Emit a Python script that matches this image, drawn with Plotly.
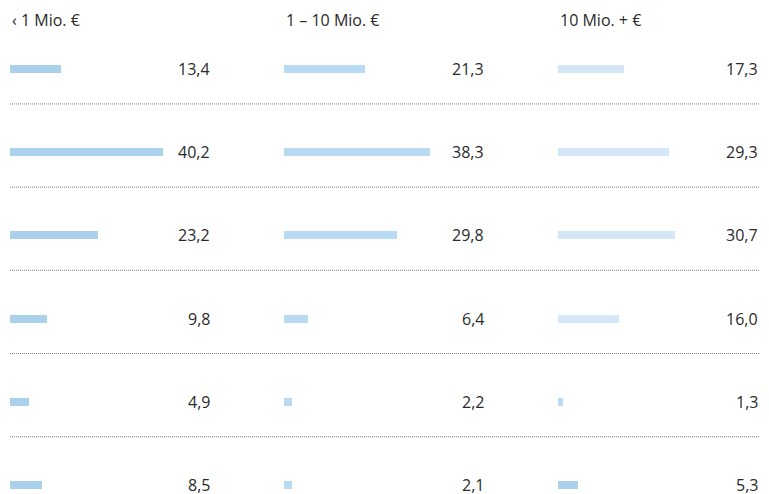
import plotly.graph_objects as go

# Column headers (company size classes)
groups = ["\u2039 1 Mio. \u20ac", "1 \u2013 10 Mio. \u20ac", "10 Mio. + \u20ac"]

# Row index (six answer categories per column)
rows = [0, 1, 2, 3, 4, 5]

# Share values (in %) per column
small = [13.4, 40.2, 23.2, 9.8, 4.9, 8.5]
medium = [21.3, 38.3, 29.8, 6.4, 2.2, 2.1]
large = [17.3, 29.3, 30.7, 16.0, 1.3, 5.3]

# Bar colours per column
colors_small = ["#a9d1eb"] * 6
colors_medium = ["#b9dbf1"] * 6
colors_large = ["#d5e7f6", "#d5e7f6", "#d5e7f6", "#d5e7f6", "#b9dbf1", "#a9d1eb"]

W, H = 769, 494
PX_PER_UNIT = 3.8
COL_LEFT = [10, 284, 558]
COL_W = 202
ROW_TOP = 69
ROW_STEP = 83.2
FONT = "Open Sans"
FONT_SIZE = 16
TEXT_COLOR = "#2a2a2a"

series = [small, medium, large]
colors = [colors_small, colors_medium, colors_large]
axis_ids = ["x", "x2", "x3"]

fig = go.Figure()
xmax = COL_W / PX_PER_UNIT

for i, (vals, cols, ax) in enumerate(zip(series, colors, axis_ids)):
    fig.add_trace(go.Bar(
        x=vals, y=rows, orientation="h",
        marker=dict(color=cols, line=dict(width=0)),
        width=8 / ROW_STEP,
        xaxis=ax, yaxis="y",
        hoverinfo="skip", showlegend=False,
    ))
    # value labels, right aligned at the column's right edge
    for v, r in zip(vals, rows):
        fig.add_annotation(
            x=xmax, y=r, xref=ax, yref="y",
            text=f"{v:.1f}".replace(".", ","),
            xanchor="right", yanchor="middle", showarrow=False,
            font=dict(family=FONT, size=FONT_SIZE, color=TEXT_COLOR),
        )
    # column header
    fig.add_annotation(
        x=0, y=1 - 20 / H, xref=ax, yref="paper",
        text=groups[i], xanchor="left", yanchor="middle", showarrow=False,
        font=dict(family=FONT, size=FONT_SIZE, color=TEXT_COLOR),
    )

# dotted separators between rows
for r in rows[:-1]:
    fig.add_shape(
        type="line", xref="paper", yref="y",
        x0=10 / W, x1=760 / W, y0=r + 0.42, y1=r + 0.42,
        line=dict(color="#7a7a7a", width=1, dash="1px,1px"),
    )

axis_common = dict(visible=False, range=[0, xmax], fixedrange=True)
layout_axes = {}
for i, ax in enumerate(["xaxis", "xaxis2", "xaxis3"]):
    d0 = COL_LEFT[i] / W
    d1 = (COL_LEFT[i] + COL_W) / W
    layout_axes[ax] = dict(axis_common, domain=[d0, d1], anchor="y")

y_top = -ROW_TOP / ROW_STEP
y_bottom = 5 + (H - (ROW_TOP + 5 * ROW_STEP)) / ROW_STEP

fig.update_layout(
    width=W, height=H,
    margin=dict(l=0, r=0, t=0, b=0),
    paper_bgcolor="white", plot_bgcolor="white",
    yaxis=dict(visible=False, range=[y_bottom, y_top], domain=[0, 1], fixedrange=True),
    bargap=0,
    **layout_axes,
)

fig.write_html("out.html")
